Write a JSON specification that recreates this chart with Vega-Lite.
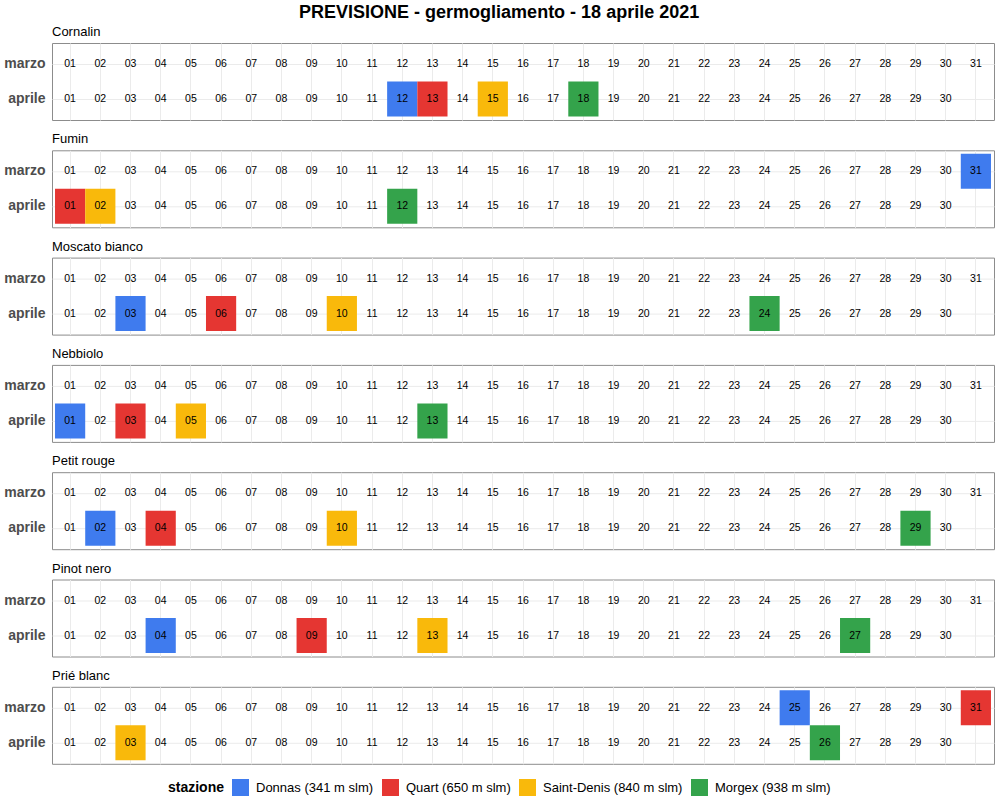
{
"$schema":"https://vega.github.io/schema/vega-lite/v6.json",
"title":{"text":"PREVISIONE - germogliamento - 18 aprile 2021","fontSize":18,"fontWeight":"bold","font":"Liberation Sans","anchor":"middle","color":"#000","offset":4},
"padding":{"left":3,"right":3,"top":3,"bottom":2},
"data":{"values":[
{"v":"Cornalin","m":"marzo","d":1},{"v":"Cornalin","m":"marzo","d":2},{"v":"Cornalin","m":"marzo","d":3},{"v":"Cornalin","m":"marzo","d":4},{"v":"Cornalin","m":"marzo","d":5},{"v":"Cornalin","m":"marzo","d":6},{"v":"Cornalin","m":"marzo","d":7},{"v":"Cornalin","m":"marzo","d":8},{"v":"Cornalin","m":"marzo","d":9},{"v":"Cornalin","m":"marzo","d":10},{"v":"Cornalin","m":"marzo","d":11},{"v":"Cornalin","m":"marzo","d":12},{"v":"Cornalin","m":"marzo","d":13},{"v":"Cornalin","m":"marzo","d":14},{"v":"Cornalin","m":"marzo","d":15},{"v":"Cornalin","m":"marzo","d":16},{"v":"Cornalin","m":"marzo","d":17},{"v":"Cornalin","m":"marzo","d":18},{"v":"Cornalin","m":"marzo","d":19},{"v":"Cornalin","m":"marzo","d":20},{"v":"Cornalin","m":"marzo","d":21},{"v":"Cornalin","m":"marzo","d":22},{"v":"Cornalin","m":"marzo","d":23},{"v":"Cornalin","m":"marzo","d":24},{"v":"Cornalin","m":"marzo","d":25},{"v":"Cornalin","m":"marzo","d":26},{"v":"Cornalin","m":"marzo","d":27},{"v":"Cornalin","m":"marzo","d":28},{"v":"Cornalin","m":"marzo","d":29},{"v":"Cornalin","m":"marzo","d":30},{"v":"Cornalin","m":"marzo","d":31},
{"v":"Cornalin","m":"aprile","d":1},{"v":"Cornalin","m":"aprile","d":2},{"v":"Cornalin","m":"aprile","d":3},{"v":"Cornalin","m":"aprile","d":4},{"v":"Cornalin","m":"aprile","d":5},{"v":"Cornalin","m":"aprile","d":6},{"v":"Cornalin","m":"aprile","d":7},{"v":"Cornalin","m":"aprile","d":8},{"v":"Cornalin","m":"aprile","d":9},{"v":"Cornalin","m":"aprile","d":10},{"v":"Cornalin","m":"aprile","d":11},{"v":"Cornalin","m":"aprile","d":12,"s":"Donnas (341 m slm)"},{"v":"Cornalin","m":"aprile","d":13,"s":"Quart (650 m slm)"},{"v":"Cornalin","m":"aprile","d":14},{"v":"Cornalin","m":"aprile","d":15,"s":"Saint-Denis (840 m slm)"},{"v":"Cornalin","m":"aprile","d":16},{"v":"Cornalin","m":"aprile","d":17},{"v":"Cornalin","m":"aprile","d":18,"s":"Morgex (938 m slm)"},{"v":"Cornalin","m":"aprile","d":19},{"v":"Cornalin","m":"aprile","d":20},{"v":"Cornalin","m":"aprile","d":21},{"v":"Cornalin","m":"aprile","d":22},{"v":"Cornalin","m":"aprile","d":23},{"v":"Cornalin","m":"aprile","d":24},{"v":"Cornalin","m":"aprile","d":25},{"v":"Cornalin","m":"aprile","d":26},{"v":"Cornalin","m":"aprile","d":27},{"v":"Cornalin","m":"aprile","d":28},{"v":"Cornalin","m":"aprile","d":29},{"v":"Cornalin","m":"aprile","d":30},
{"v":"Fumin","m":"marzo","d":1},{"v":"Fumin","m":"marzo","d":2},{"v":"Fumin","m":"marzo","d":3},{"v":"Fumin","m":"marzo","d":4},{"v":"Fumin","m":"marzo","d":5},{"v":"Fumin","m":"marzo","d":6},{"v":"Fumin","m":"marzo","d":7},{"v":"Fumin","m":"marzo","d":8},{"v":"Fumin","m":"marzo","d":9},{"v":"Fumin","m":"marzo","d":10},{"v":"Fumin","m":"marzo","d":11},{"v":"Fumin","m":"marzo","d":12},{"v":"Fumin","m":"marzo","d":13},{"v":"Fumin","m":"marzo","d":14},{"v":"Fumin","m":"marzo","d":15},{"v":"Fumin","m":"marzo","d":16},{"v":"Fumin","m":"marzo","d":17},{"v":"Fumin","m":"marzo","d":18},{"v":"Fumin","m":"marzo","d":19},{"v":"Fumin","m":"marzo","d":20},{"v":"Fumin","m":"marzo","d":21},{"v":"Fumin","m":"marzo","d":22},{"v":"Fumin","m":"marzo","d":23},{"v":"Fumin","m":"marzo","d":24},{"v":"Fumin","m":"marzo","d":25},{"v":"Fumin","m":"marzo","d":26},{"v":"Fumin","m":"marzo","d":27},{"v":"Fumin","m":"marzo","d":28},{"v":"Fumin","m":"marzo","d":29},{"v":"Fumin","m":"marzo","d":30},{"v":"Fumin","m":"marzo","d":31,"s":"Donnas (341 m slm)"},
{"v":"Fumin","m":"aprile","d":1,"s":"Quart (650 m slm)"},{"v":"Fumin","m":"aprile","d":2,"s":"Saint-Denis (840 m slm)"},{"v":"Fumin","m":"aprile","d":3},{"v":"Fumin","m":"aprile","d":4},{"v":"Fumin","m":"aprile","d":5},{"v":"Fumin","m":"aprile","d":6},{"v":"Fumin","m":"aprile","d":7},{"v":"Fumin","m":"aprile","d":8},{"v":"Fumin","m":"aprile","d":9},{"v":"Fumin","m":"aprile","d":10},{"v":"Fumin","m":"aprile","d":11},{"v":"Fumin","m":"aprile","d":12,"s":"Morgex (938 m slm)"},{"v":"Fumin","m":"aprile","d":13},{"v":"Fumin","m":"aprile","d":14},{"v":"Fumin","m":"aprile","d":15},{"v":"Fumin","m":"aprile","d":16},{"v":"Fumin","m":"aprile","d":17},{"v":"Fumin","m":"aprile","d":18},{"v":"Fumin","m":"aprile","d":19},{"v":"Fumin","m":"aprile","d":20},{"v":"Fumin","m":"aprile","d":21},{"v":"Fumin","m":"aprile","d":22},{"v":"Fumin","m":"aprile","d":23},{"v":"Fumin","m":"aprile","d":24},{"v":"Fumin","m":"aprile","d":25},{"v":"Fumin","m":"aprile","d":26},{"v":"Fumin","m":"aprile","d":27},{"v":"Fumin","m":"aprile","d":28},{"v":"Fumin","m":"aprile","d":29},{"v":"Fumin","m":"aprile","d":30},
{"v":"Moscato bianco","m":"marzo","d":1},{"v":"Moscato bianco","m":"marzo","d":2},{"v":"Moscato bianco","m":"marzo","d":3},{"v":"Moscato bianco","m":"marzo","d":4},{"v":"Moscato bianco","m":"marzo","d":5},{"v":"Moscato bianco","m":"marzo","d":6},{"v":"Moscato bianco","m":"marzo","d":7},{"v":"Moscato bianco","m":"marzo","d":8},{"v":"Moscato bianco","m":"marzo","d":9},{"v":"Moscato bianco","m":"marzo","d":10},{"v":"Moscato bianco","m":"marzo","d":11},{"v":"Moscato bianco","m":"marzo","d":12},{"v":"Moscato bianco","m":"marzo","d":13},{"v":"Moscato bianco","m":"marzo","d":14},{"v":"Moscato bianco","m":"marzo","d":15},{"v":"Moscato bianco","m":"marzo","d":16},{"v":"Moscato bianco","m":"marzo","d":17},{"v":"Moscato bianco","m":"marzo","d":18},{"v":"Moscato bianco","m":"marzo","d":19},{"v":"Moscato bianco","m":"marzo","d":20},{"v":"Moscato bianco","m":"marzo","d":21},{"v":"Moscato bianco","m":"marzo","d":22},{"v":"Moscato bianco","m":"marzo","d":23},{"v":"Moscato bianco","m":"marzo","d":24},{"v":"Moscato bianco","m":"marzo","d":25},{"v":"Moscato bianco","m":"marzo","d":26},{"v":"Moscato bianco","m":"marzo","d":27},{"v":"Moscato bianco","m":"marzo","d":28},{"v":"Moscato bianco","m":"marzo","d":29},{"v":"Moscato bianco","m":"marzo","d":30},{"v":"Moscato bianco","m":"marzo","d":31},
{"v":"Moscato bianco","m":"aprile","d":1},{"v":"Moscato bianco","m":"aprile","d":2},{"v":"Moscato bianco","m":"aprile","d":3,"s":"Donnas (341 m slm)"},{"v":"Moscato bianco","m":"aprile","d":4},{"v":"Moscato bianco","m":"aprile","d":5},{"v":"Moscato bianco","m":"aprile","d":6,"s":"Quart (650 m slm)"},{"v":"Moscato bianco","m":"aprile","d":7},{"v":"Moscato bianco","m":"aprile","d":8},{"v":"Moscato bianco","m":"aprile","d":9},{"v":"Moscato bianco","m":"aprile","d":10,"s":"Saint-Denis (840 m slm)"},{"v":"Moscato bianco","m":"aprile","d":11},{"v":"Moscato bianco","m":"aprile","d":12},{"v":"Moscato bianco","m":"aprile","d":13},{"v":"Moscato bianco","m":"aprile","d":14},{"v":"Moscato bianco","m":"aprile","d":15},{"v":"Moscato bianco","m":"aprile","d":16},{"v":"Moscato bianco","m":"aprile","d":17},{"v":"Moscato bianco","m":"aprile","d":18},{"v":"Moscato bianco","m":"aprile","d":19},{"v":"Moscato bianco","m":"aprile","d":20},{"v":"Moscato bianco","m":"aprile","d":21},{"v":"Moscato bianco","m":"aprile","d":22},{"v":"Moscato bianco","m":"aprile","d":23},{"v":"Moscato bianco","m":"aprile","d":24,"s":"Morgex (938 m slm)"},{"v":"Moscato bianco","m":"aprile","d":25},{"v":"Moscato bianco","m":"aprile","d":26},{"v":"Moscato bianco","m":"aprile","d":27},{"v":"Moscato bianco","m":"aprile","d":28},{"v":"Moscato bianco","m":"aprile","d":29},{"v":"Moscato bianco","m":"aprile","d":30},
{"v":"Nebbiolo","m":"marzo","d":1},{"v":"Nebbiolo","m":"marzo","d":2},{"v":"Nebbiolo","m":"marzo","d":3},{"v":"Nebbiolo","m":"marzo","d":4},{"v":"Nebbiolo","m":"marzo","d":5},{"v":"Nebbiolo","m":"marzo","d":6},{"v":"Nebbiolo","m":"marzo","d":7},{"v":"Nebbiolo","m":"marzo","d":8},{"v":"Nebbiolo","m":"marzo","d":9},{"v":"Nebbiolo","m":"marzo","d":10},{"v":"Nebbiolo","m":"marzo","d":11},{"v":"Nebbiolo","m":"marzo","d":12},{"v":"Nebbiolo","m":"marzo","d":13},{"v":"Nebbiolo","m":"marzo","d":14},{"v":"Nebbiolo","m":"marzo","d":15},{"v":"Nebbiolo","m":"marzo","d":16},{"v":"Nebbiolo","m":"marzo","d":17},{"v":"Nebbiolo","m":"marzo","d":18},{"v":"Nebbiolo","m":"marzo","d":19},{"v":"Nebbiolo","m":"marzo","d":20},{"v":"Nebbiolo","m":"marzo","d":21},{"v":"Nebbiolo","m":"marzo","d":22},{"v":"Nebbiolo","m":"marzo","d":23},{"v":"Nebbiolo","m":"marzo","d":24},{"v":"Nebbiolo","m":"marzo","d":25},{"v":"Nebbiolo","m":"marzo","d":26},{"v":"Nebbiolo","m":"marzo","d":27},{"v":"Nebbiolo","m":"marzo","d":28},{"v":"Nebbiolo","m":"marzo","d":29},{"v":"Nebbiolo","m":"marzo","d":30},{"v":"Nebbiolo","m":"marzo","d":31},
{"v":"Nebbiolo","m":"aprile","d":1,"s":"Donnas (341 m slm)"},{"v":"Nebbiolo","m":"aprile","d":2},{"v":"Nebbiolo","m":"aprile","d":3,"s":"Quart (650 m slm)"},{"v":"Nebbiolo","m":"aprile","d":4},{"v":"Nebbiolo","m":"aprile","d":5,"s":"Saint-Denis (840 m slm)"},{"v":"Nebbiolo","m":"aprile","d":6},{"v":"Nebbiolo","m":"aprile","d":7},{"v":"Nebbiolo","m":"aprile","d":8},{"v":"Nebbiolo","m":"aprile","d":9},{"v":"Nebbiolo","m":"aprile","d":10},{"v":"Nebbiolo","m":"aprile","d":11},{"v":"Nebbiolo","m":"aprile","d":12},{"v":"Nebbiolo","m":"aprile","d":13,"s":"Morgex (938 m slm)"},{"v":"Nebbiolo","m":"aprile","d":14},{"v":"Nebbiolo","m":"aprile","d":15},{"v":"Nebbiolo","m":"aprile","d":16},{"v":"Nebbiolo","m":"aprile","d":17},{"v":"Nebbiolo","m":"aprile","d":18},{"v":"Nebbiolo","m":"aprile","d":19},{"v":"Nebbiolo","m":"aprile","d":20},{"v":"Nebbiolo","m":"aprile","d":21},{"v":"Nebbiolo","m":"aprile","d":22},{"v":"Nebbiolo","m":"aprile","d":23},{"v":"Nebbiolo","m":"aprile","d":24},{"v":"Nebbiolo","m":"aprile","d":25},{"v":"Nebbiolo","m":"aprile","d":26},{"v":"Nebbiolo","m":"aprile","d":27},{"v":"Nebbiolo","m":"aprile","d":28},{"v":"Nebbiolo","m":"aprile","d":29},{"v":"Nebbiolo","m":"aprile","d":30},
{"v":"Petit rouge","m":"marzo","d":1},{"v":"Petit rouge","m":"marzo","d":2},{"v":"Petit rouge","m":"marzo","d":3},{"v":"Petit rouge","m":"marzo","d":4},{"v":"Petit rouge","m":"marzo","d":5},{"v":"Petit rouge","m":"marzo","d":6},{"v":"Petit rouge","m":"marzo","d":7},{"v":"Petit rouge","m":"marzo","d":8},{"v":"Petit rouge","m":"marzo","d":9},{"v":"Petit rouge","m":"marzo","d":10},{"v":"Petit rouge","m":"marzo","d":11},{"v":"Petit rouge","m":"marzo","d":12},{"v":"Petit rouge","m":"marzo","d":13},{"v":"Petit rouge","m":"marzo","d":14},{"v":"Petit rouge","m":"marzo","d":15},{"v":"Petit rouge","m":"marzo","d":16},{"v":"Petit rouge","m":"marzo","d":17},{"v":"Petit rouge","m":"marzo","d":18},{"v":"Petit rouge","m":"marzo","d":19},{"v":"Petit rouge","m":"marzo","d":20},{"v":"Petit rouge","m":"marzo","d":21},{"v":"Petit rouge","m":"marzo","d":22},{"v":"Petit rouge","m":"marzo","d":23},{"v":"Petit rouge","m":"marzo","d":24},{"v":"Petit rouge","m":"marzo","d":25},{"v":"Petit rouge","m":"marzo","d":26},{"v":"Petit rouge","m":"marzo","d":27},{"v":"Petit rouge","m":"marzo","d":28},{"v":"Petit rouge","m":"marzo","d":29},{"v":"Petit rouge","m":"marzo","d":30},{"v":"Petit rouge","m":"marzo","d":31},
{"v":"Petit rouge","m":"aprile","d":1},{"v":"Petit rouge","m":"aprile","d":2,"s":"Donnas (341 m slm)"},{"v":"Petit rouge","m":"aprile","d":3},{"v":"Petit rouge","m":"aprile","d":4,"s":"Quart (650 m slm)"},{"v":"Petit rouge","m":"aprile","d":5},{"v":"Petit rouge","m":"aprile","d":6},{"v":"Petit rouge","m":"aprile","d":7},{"v":"Petit rouge","m":"aprile","d":8},{"v":"Petit rouge","m":"aprile","d":9},{"v":"Petit rouge","m":"aprile","d":10,"s":"Saint-Denis (840 m slm)"},{"v":"Petit rouge","m":"aprile","d":11},{"v":"Petit rouge","m":"aprile","d":12},{"v":"Petit rouge","m":"aprile","d":13},{"v":"Petit rouge","m":"aprile","d":14},{"v":"Petit rouge","m":"aprile","d":15},{"v":"Petit rouge","m":"aprile","d":16},{"v":"Petit rouge","m":"aprile","d":17},{"v":"Petit rouge","m":"aprile","d":18},{"v":"Petit rouge","m":"aprile","d":19},{"v":"Petit rouge","m":"aprile","d":20},{"v":"Petit rouge","m":"aprile","d":21},{"v":"Petit rouge","m":"aprile","d":22},{"v":"Petit rouge","m":"aprile","d":23},{"v":"Petit rouge","m":"aprile","d":24},{"v":"Petit rouge","m":"aprile","d":25},{"v":"Petit rouge","m":"aprile","d":26},{"v":"Petit rouge","m":"aprile","d":27},{"v":"Petit rouge","m":"aprile","d":28},{"v":"Petit rouge","m":"aprile","d":29,"s":"Morgex (938 m slm)"},{"v":"Petit rouge","m":"aprile","d":30},
{"v":"Pinot nero","m":"marzo","d":1},{"v":"Pinot nero","m":"marzo","d":2},{"v":"Pinot nero","m":"marzo","d":3},{"v":"Pinot nero","m":"marzo","d":4},{"v":"Pinot nero","m":"marzo","d":5},{"v":"Pinot nero","m":"marzo","d":6},{"v":"Pinot nero","m":"marzo","d":7},{"v":"Pinot nero","m":"marzo","d":8},{"v":"Pinot nero","m":"marzo","d":9},{"v":"Pinot nero","m":"marzo","d":10},{"v":"Pinot nero","m":"marzo","d":11},{"v":"Pinot nero","m":"marzo","d":12},{"v":"Pinot nero","m":"marzo","d":13},{"v":"Pinot nero","m":"marzo","d":14},{"v":"Pinot nero","m":"marzo","d":15},{"v":"Pinot nero","m":"marzo","d":16},{"v":"Pinot nero","m":"marzo","d":17},{"v":"Pinot nero","m":"marzo","d":18},{"v":"Pinot nero","m":"marzo","d":19},{"v":"Pinot nero","m":"marzo","d":20},{"v":"Pinot nero","m":"marzo","d":21},{"v":"Pinot nero","m":"marzo","d":22},{"v":"Pinot nero","m":"marzo","d":23},{"v":"Pinot nero","m":"marzo","d":24},{"v":"Pinot nero","m":"marzo","d":25},{"v":"Pinot nero","m":"marzo","d":26},{"v":"Pinot nero","m":"marzo","d":27},{"v":"Pinot nero","m":"marzo","d":28},{"v":"Pinot nero","m":"marzo","d":29},{"v":"Pinot nero","m":"marzo","d":30},{"v":"Pinot nero","m":"marzo","d":31},
{"v":"Pinot nero","m":"aprile","d":1},{"v":"Pinot nero","m":"aprile","d":2},{"v":"Pinot nero","m":"aprile","d":3},{"v":"Pinot nero","m":"aprile","d":4,"s":"Donnas (341 m slm)"},{"v":"Pinot nero","m":"aprile","d":5},{"v":"Pinot nero","m":"aprile","d":6},{"v":"Pinot nero","m":"aprile","d":7},{"v":"Pinot nero","m":"aprile","d":8},{"v":"Pinot nero","m":"aprile","d":9,"s":"Quart (650 m slm)"},{"v":"Pinot nero","m":"aprile","d":10},{"v":"Pinot nero","m":"aprile","d":11},{"v":"Pinot nero","m":"aprile","d":12},{"v":"Pinot nero","m":"aprile","d":13,"s":"Saint-Denis (840 m slm)"},{"v":"Pinot nero","m":"aprile","d":14},{"v":"Pinot nero","m":"aprile","d":15},{"v":"Pinot nero","m":"aprile","d":16},{"v":"Pinot nero","m":"aprile","d":17},{"v":"Pinot nero","m":"aprile","d":18},{"v":"Pinot nero","m":"aprile","d":19},{"v":"Pinot nero","m":"aprile","d":20},{"v":"Pinot nero","m":"aprile","d":21},{"v":"Pinot nero","m":"aprile","d":22},{"v":"Pinot nero","m":"aprile","d":23},{"v":"Pinot nero","m":"aprile","d":24},{"v":"Pinot nero","m":"aprile","d":25},{"v":"Pinot nero","m":"aprile","d":26},{"v":"Pinot nero","m":"aprile","d":27,"s":"Morgex (938 m slm)"},{"v":"Pinot nero","m":"aprile","d":28},{"v":"Pinot nero","m":"aprile","d":29},{"v":"Pinot nero","m":"aprile","d":30},
{"v":"Prié blanc","m":"marzo","d":1},{"v":"Prié blanc","m":"marzo","d":2},{"v":"Prié blanc","m":"marzo","d":3},{"v":"Prié blanc","m":"marzo","d":4},{"v":"Prié blanc","m":"marzo","d":5},{"v":"Prié blanc","m":"marzo","d":6},{"v":"Prié blanc","m":"marzo","d":7},{"v":"Prié blanc","m":"marzo","d":8},{"v":"Prié blanc","m":"marzo","d":9},{"v":"Prié blanc","m":"marzo","d":10},{"v":"Prié blanc","m":"marzo","d":11},{"v":"Prié blanc","m":"marzo","d":12},{"v":"Prié blanc","m":"marzo","d":13},{"v":"Prié blanc","m":"marzo","d":14},{"v":"Prié blanc","m":"marzo","d":15},{"v":"Prié blanc","m":"marzo","d":16},{"v":"Prié blanc","m":"marzo","d":17},{"v":"Prié blanc","m":"marzo","d":18},{"v":"Prié blanc","m":"marzo","d":19},{"v":"Prié blanc","m":"marzo","d":20},{"v":"Prié blanc","m":"marzo","d":21},{"v":"Prié blanc","m":"marzo","d":22},{"v":"Prié blanc","m":"marzo","d":23},{"v":"Prié blanc","m":"marzo","d":24},{"v":"Prié blanc","m":"marzo","d":25,"s":"Donnas (341 m slm)"},{"v":"Prié blanc","m":"marzo","d":26},{"v":"Prié blanc","m":"marzo","d":27},{"v":"Prié blanc","m":"marzo","d":28},{"v":"Prié blanc","m":"marzo","d":29},{"v":"Prié blanc","m":"marzo","d":30},{"v":"Prié blanc","m":"marzo","d":31,"s":"Quart (650 m slm)"},
{"v":"Prié blanc","m":"aprile","d":1},{"v":"Prié blanc","m":"aprile","d":2},{"v":"Prié blanc","m":"aprile","d":3,"s":"Saint-Denis (840 m slm)"},{"v":"Prié blanc","m":"aprile","d":4},{"v":"Prié blanc","m":"aprile","d":5},{"v":"Prié blanc","m":"aprile","d":6},{"v":"Prié blanc","m":"aprile","d":7},{"v":"Prié blanc","m":"aprile","d":8},{"v":"Prié blanc","m":"aprile","d":9},{"v":"Prié blanc","m":"aprile","d":10},{"v":"Prié blanc","m":"aprile","d":11},{"v":"Prié blanc","m":"aprile","d":12},{"v":"Prié blanc","m":"aprile","d":13},{"v":"Prié blanc","m":"aprile","d":14},{"v":"Prié blanc","m":"aprile","d":15},{"v":"Prié blanc","m":"aprile","d":16},{"v":"Prié blanc","m":"aprile","d":17},{"v":"Prié blanc","m":"aprile","d":18},{"v":"Prié blanc","m":"aprile","d":19},{"v":"Prié blanc","m":"aprile","d":20},{"v":"Prié blanc","m":"aprile","d":21},{"v":"Prié blanc","m":"aprile","d":22},{"v":"Prié blanc","m":"aprile","d":23},{"v":"Prié blanc","m":"aprile","d":24},{"v":"Prié blanc","m":"aprile","d":25},{"v":"Prié blanc","m":"aprile","d":26,"s":"Morgex (938 m slm)"},{"v":"Prié blanc","m":"aprile","d":27},{"v":"Prié blanc","m":"aprile","d":28},{"v":"Prié blanc","m":"aprile","d":29},{"v":"Prié blanc","m":"aprile","d":30}
]},
"facet":{"field":"v","type":"nominal","title":null,"header":{"labelOrient":"top","labelAnchor":"start","labelAngle":0,"labelFontSize":13,"labelFont":"Liberation Sans","labelColor":"#000","labelPadding":-9}},
"columns":1,
"spacing":11.3,
"spec":{
"width":942,"height":77,
"encoding":{
"x":{"field":"d","type":"ordinal","scale":{"domain":[1,2,3,4,5,6,7,8,9,10,11,12,13,14,15,16,17,18,19,20,21,22,23,24,25,26,27,28,29,30,31],"paddingInner":0,"paddingOuter":0.1},"axis":{"labels":false,"ticks":false,"domain":false,"title":null,"grid":true,"bandPosition":0.5,"gridColor":"#ebebeb","minExtent":0,"maxExtent":0,"zindex":0}},
"y":{"field":"m","type":"ordinal","scale":{"domain":["marzo","aprile"],"paddingInner":0,"paddingOuter":0.1},"axis":{"ticks":false,"domain":false,"title":null,"grid":true,"bandPosition":0.5,"gridColor":"#ebebeb","labelFontSize":14,"labelFontWeight":"bold","labelColor":"#4d4d4d","labelFont":"Liberation Sans","labelPadding":6,"zindex":0}}
},
"layer":[
{"transform":[{"filter":"datum.s != null"}],
 "mark":{"type":"rect"},
 "encoding":{"color":{"field":"s","type":"nominal","title":"stazione","scale":{"domain":["Donnas (341 m slm)","Quart (650 m slm)","Saint-Denis (840 m slm)","Morgex (938 m slm)"],"range":["#3F7BEE","#E53632","#F9B90B","#34A34B"]}}}},
{"mark":{"type":"text","fontSize":10.5,"font":"Liberation Sans","color":"#000"},
 "encoding":{"text":{"field":"d","type":"quantitative","format":"02d"}}}
]},
"config":{
"view":{"stroke":"#8c8c8c","strokeWidth":1},
"legend":{"orient":"bottom","direction":"horizontal","titleOrient":"left","titleFontSize":14,"titleFontWeight":"bold","titleColor":"#000","titleFont":"Liberation Sans","labelFontSize":13,"labelFont":"Liberation Sans","labelColor":"#000","symbolType":"square","symbolSize":289,"symbolStrokeWidth":0,"symbolOpacity":1,"columnPadding":8,"labelOffset":7,"titlePadding":7,"offset":14,"layout":{"bottom":{"anchor":"middle"}}}
}
}
